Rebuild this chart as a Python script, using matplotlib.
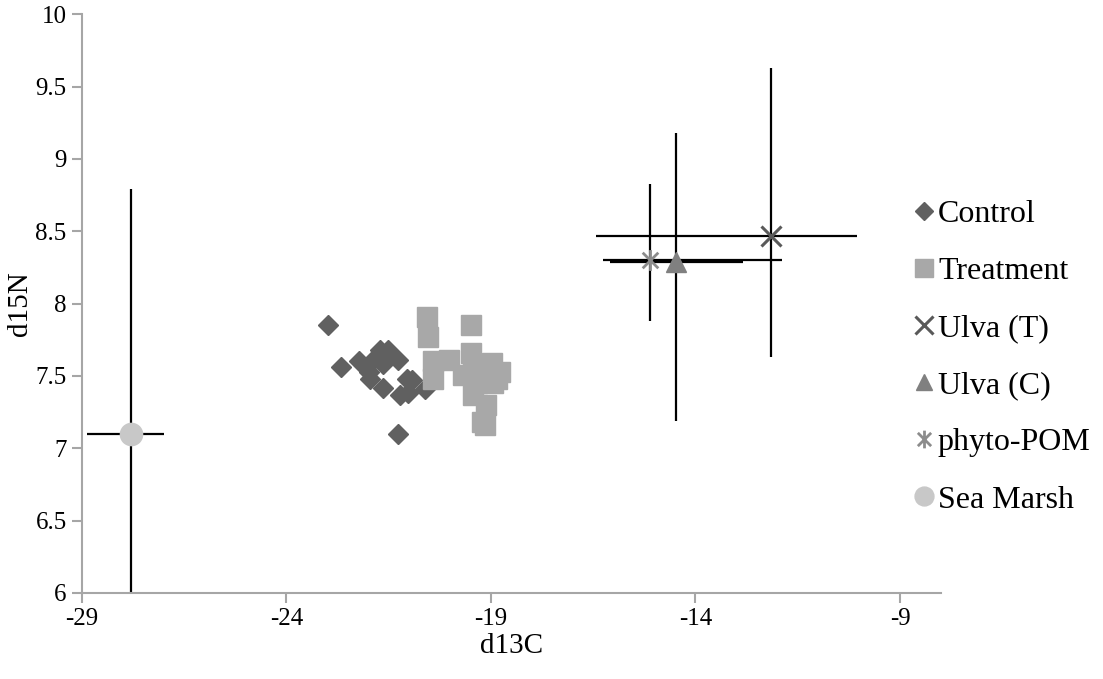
import numpy as np
import matplotlib.pyplot as plt
from matplotlib.path import Path

plt.rcParams['font.family'] = ['Liberation Serif', 'DejaVu Serif']
plt.rcParams['axes.unicode_minus'] = False

# Control (diamonds)
control_x = [-22.99, -22.67, -22.22, -21.71, -21.51, -21.27, -21.99, -21.96, -21.65,
             -21.65, -21.23, -21.02, -20.94, -20.61, -21.27, -21.88, -21.06]
control_y = [7.85, 7.56, 7.60, 7.68, 7.68, 7.61, 7.53, 7.48, 7.58,
             7.42, 7.37, 7.38, 7.47, 7.41, 7.10, 7.61, 7.48]

# Treatment (squares)
treat_x = [-20.56, -20.53, -19.48, -20.41, -20.02, -20.41, -19.68, -19.48, -19.44, -19.23,
           -18.98, -18.78, -18.94, -19.44, -19.11, -19.23, -19.15, -19.35, -18.86]
treat_y = [7.91, 7.77, 7.85, 7.60, 7.61, 7.48, 7.51, 7.66, 7.56, 7.58,
           7.59, 7.53, 7.45, 7.37, 7.30, 7.18, 7.16, 7.45, 7.48]

# sources with error bars: xerr/yerr as [[minus], [plus]]
ulva_t = dict(x=-12.16, y=8.47, xerr=[[4.26], [2.11]], yerr=[[0.84], [1.16]])
ulva_c = dict(x=-14.48, y=8.29, xerr=[[1.61], [1.64]], yerr=[[1.10], [0.89]])
phyto = dict(x=-15.10, y=8.30, xerr=[[1.15], [3.21]], yerr=[[0.42], [0.53]])
marsh = dict(x=-27.80, y=7.10, xerr=[[1.08], [0.81]], yerr=[[1.7], [1.69]])

# asterisk marker like Excel's
star = Path([(0, -1), (0, 1), (-0.75, -0.75), (0.75, 0.75), (-0.75, 0.75), (0.75, -0.75)],
            [Path.MOVETO, Path.LINETO] * 3)

fig, ax = plt.subplots(figsize=(11.03, 6.79), dpi=100)
fig.subplots_adjust(left=0.0743, right=0.853, bottom=0.1267, top=0.979)

for d in (ulva_t, ulva_c, phyto, marsh):
    ax.errorbar(d['x'], d['y'], xerr=d['xerr'], yerr=d['yerr'], fmt='none',
                ecolor='black', elinewidth=1.6, capsize=0, zorder=2)

ax.plot(control_x, control_y, 'D', color='#606060', ms=10.5, mec='#606060', ls='none',
        label='Control', zorder=3)
ax.plot(treat_x, treat_y, 's', color='#A8A8A8', ms=14.5, mec='#A8A8A8', ls='none',
        label='Treatment', zorder=3)
ax.plot(ulva_t['x'], ulva_t['y'], 'x', color='#595959', ms=15, mew=2.2, ls='none',
        label='Ulva (T)', zorder=4)
ax.plot(ulva_c['x'], ulva_c['y'], '^', color='#808080', ms=14, ls='none',
        label='Ulva (C)', zorder=4)
ax.plot(phyto['x'], phyto['y'], marker=star, color='#8C8C8C', ms=15, mew=2.0, ls='none',
        label='phyto-POM', zorder=4)
ax.plot(marsh['x'], marsh['y'], 'o', color='#C8C8C8', ms=16, ls='none',
        label='Sea Marsh', zorder=4)

ax.set_xlim(-29, -8)
ax.set_ylim(6, 10)
ax.set_xticks(np.arange(-29, -8, 5))
ax.set_yticks(np.arange(6, 10.01, 0.5))
ax.set_yticklabels(['6', '6.5', '7', '7.5', '8', '8.5', '9', '9.5', '10'])

for s in ['top', 'right']:
    ax.spines[s].set_visible(False)
for s in ['left', 'bottom']:
    ax.spines[s].set_color('#A6A6A6')
    ax.spines[s].set_linewidth(1.5)
ax.tick_params(direction='out', length=7, width=1.5, color='#A6A6A6', labelsize=18, pad=4)

ax.set_xlabel('d13C', fontsize=21, labelpad=2)
ax.set_ylabel('d15N', fontsize=21, labelpad=2)

leg = ax.legend(loc='upper left', bbox_to_anchor=(0.965, 0.68), frameon=False,
                fontsize=23, handletextpad=0.05, handlelength=0.8, labelspacing=0.87,
                borderpad=0, borderaxespad=0, markerscale=0.85)

fig.savefig('out.png', dpi=100)
